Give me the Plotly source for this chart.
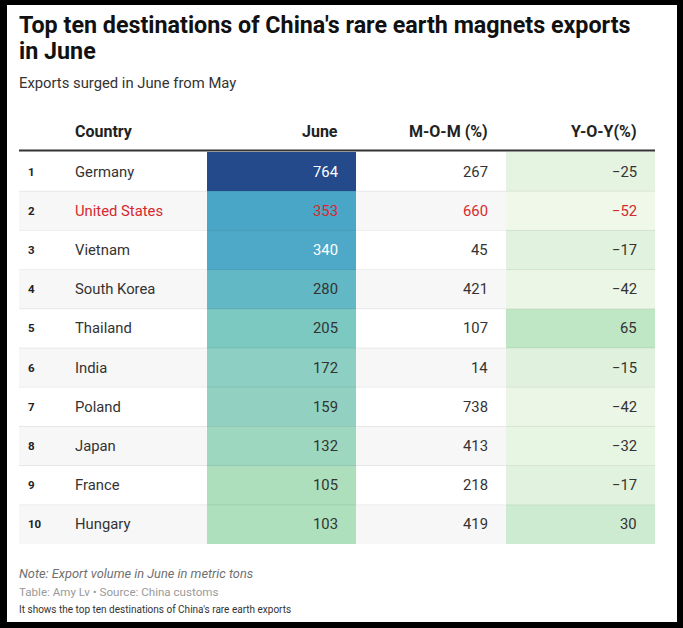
import plotly.graph_objects as go
from plotly.colors import sample_colorscale

# ---------------- data ----------------
ranks = [1, 2, 3, 4, 5, 6, 7, 8, 9, 10]
countries = ["Germany", "United States", "Vietnam", "South Korea", "Thailand",
             "India", "Poland", "Japan", "France", "Hungary"]
june = [764, 353, 340, 280, 205, 172, 159, 132, 105, 103]
mom = [267, 660, 45, 421, 107, 14, 738, 413, 218, 419]
yoy = [-25, -52, -17, -42, 65, -15, -42, -32, -17, 30]
headers = ["Country", "June", "M-O-M (%)", "Y-O-Y(%)"]
highlight = "United States"

title_lines = ["Top ten destinations of China's rare earth magnets exports", "in June"]
subtitle = "Exports surged in June from May"
note = "Note: Export volume in June in metric tons"
source = "Table: Amy Lv \u2022 Source: China customs"
desc = "It shows the top ten destinations of China's rare earth exports"

# ---------------- style ----------------
W, H = 683, 628
ML, MR, MT, MB = 7, 6, 5, 6
PW, PH = W - ML - MR, H - MT - MB
FONT = "Roboto, Arial, sans-serif"
TXT = "#333333"
RED = "#d6292f"

def px_x(p):
    return (p - ML) / PW

def px_y(p):
    return 1 - (p - MT) / PH

col_w = [46, 142, 149, 150, 149]
edges = [0]
for w in col_w:
    edges.append(edges[-1] + w)

june_scale = [[0.0, "#aee0bd"], [0.045, "#9dd7bf"], [0.1, "#8ecfc2"],
              [0.155, "#7cc9c2"], [0.27, "#62b8c5"], [0.37, "#4ba7c8"],
              [0.65, "#2f78b0"], [1.0, "#254a8b"]]
yoy_scale = [[0.0, "#eff8e9"], [1.0, "#bfe6c5"]]

def fmt(v):
    return ("\u2212" + str(-v)) if v < 0 else str(v)

def lum(color):
    s = color.replace("rgb(", "").replace(")", "").split(",")
    r, g, b = [float(c) / 255 for c in s]
    lin = lambda c: c / 12.92 if c <= 0.04045 else ((c + 0.055) / 1.055) ** 2.4
    return 0.2126 * lin(r) + 0.7152 * lin(g) + 0.0722 * lin(b)

rows = list(range(len(countries)))
fig = go.Figure()

# row stripes
fig.add_trace(go.Heatmap(x=[edges[0], edges[-1]], y=rows,
                         z=[[i % 2] for i in rows], zmin=0, zmax=1,
                         colorscale=[[0, "#ffffff"], [1, "#f7f7f7"]],
                         showscale=False, hoverinfo="skip"))
# June column
fig.add_trace(go.Heatmap(x=[edges[2], edges[3]], y=rows,
                         z=[[v] for v in june], zmin=min(june), zmax=max(june),
                         colorscale=june_scale, showscale=False, hoverinfo="skip"))
# Y-O-Y column
fig.add_trace(go.Heatmap(x=[edges[4], edges[5]], y=rows,
                         z=[[v] for v in yoy], zmin=min(yoy), zmax=max(yoy),
                         colorscale=yoy_scale, showscale=False, hoverinfo="skip"))

june_cols = sample_colorscale(june_scale,
                              [(v - min(june)) / (max(june) - min(june)) for v in june])

BODY = 14.8
ann = []
shapes = []
for i in rows:
    hl = countries[i] == highlight
    c = RED if hl else TXT
    ann.append(dict(x=edges[0], y=i, xref="x", yref="y", text="<b>%d</b>" % ranks[i],
                    xanchor="left", yanchor="middle", xshift=7, showarrow=False,
                    font=dict(family=FONT, size=11.5, color="#222222")))
    ann.append(dict(x=edges[1], y=i, xref="x", yref="y", text=countries[i],
                    xanchor="left", yanchor="middle", xshift=8, showarrow=False,
                    font=dict(family=FONT, size=BODY, color=c)))
    jc = RED if hl else ("#ffffff" if lum(june_cols[i]) < 0.38 else TXT)
    ann.append(dict(x=edges[3], y=i, xref="x", yref="y", text=fmt(june[i]),
                    xanchor="right", yanchor="middle", xshift=-16, showarrow=False,
                    font=dict(family=FONT, size=BODY, color=jc)))
    ann.append(dict(x=edges[4], y=i, xref="x", yref="y", text=fmt(mom[i]),
                    xanchor="right", yanchor="middle", xshift=-16, showarrow=False,
                    font=dict(family=FONT, size=BODY, color=c)))
    ann.append(dict(x=edges[5], y=i, xref="x", yref="y", text=fmt(yoy[i]),
                    xanchor="right", yanchor="middle", xshift=-16, showarrow=False,
                    font=dict(family=FONT, size=BODY, color=c)))
    if i < len(rows) - 1:
        shapes.append(dict(type="line", xref="x", yref="y", x0=edges[0], x1=edges[-1],
                           y0=i + 0.5, y1=i + 0.5,
                           line=dict(color="rgba(0,0,0,0.07)", width=1)))

# header
hy = px_y(131)
hx = [(edges[1], "left", 8), (edges[3], "right", -16), (edges[4], "right", -16),
      (edges[5], "right", -16)]
for (xv, anc, sh), t in zip(hx, headers):
    ann.append(dict(x=xv, y=hy, xref="x", yref="paper", text="<b>%s</b>" % t,
                    xanchor=anc, yanchor="middle", xshift=sh, showarrow=False,
                    font=dict(family=FONT, size=16, color="#222222")))
shapes.append(dict(type="line", xref="x", yref="paper", x0=edges[0], x1=edges[-1],
                   y0=px_y(150.5), y1=px_y(150.5), line=dict(color="#333333", width=2)))

# white card
shapes.insert(0, dict(type="rect", xref="paper", yref="paper", x0=0, x1=1, y0=0, y1=1,
                      fillcolor="#ffffff", line=dict(width=0), layer="below"))

# titles / footer
for t, yy in zip(title_lines, [24.5, 51.5]):
    ann.append(dict(x=px_x(17), y=px_y(yy), xref="paper", yref="paper", text="<b>%s</b>" % t,
                    xanchor="left", yanchor="middle", align="left", showarrow=False,
                    font=dict(family=FONT, size=23.3, color="#111111")))
ann.append(dict(x=px_x(17), y=px_y(83), xref="paper", yref="paper", text=subtitle,
                xanchor="left", yanchor="middle", showarrow=False,
                font=dict(family=FONT, size=14.8, color=TXT)))
ann.append(dict(x=px_x(17), y=px_y(573), xref="paper", yref="paper", text="<i>%s</i>" % note,
                xanchor="left", yanchor="middle", showarrow=False,
                font=dict(family=FONT, size=12.8, color="#707070")))
ann.append(dict(x=px_x(17), y=px_y(592), xref="paper", yref="paper", text=source,
                xanchor="left", yanchor="middle", showarrow=False,
                font=dict(family=FONT, size=11.6, color="#9a9a9a")))
ann.append(dict(x=px_x(17), y=px_y(609), xref="paper", yref="paper", text=desc,
                xanchor="left", yanchor="middle", showarrow=False,
                font=dict(family=FONT, size=10, color="#333333")))

fig.update_layout(
    width=W, height=H,
    margin=dict(l=ML, r=MR, t=MT, b=MB, pad=0),
    paper_bgcolor="#000000", plot_bgcolor="rgba(0,0,0,0)",
    xaxis=dict(range=[edges[0], edges[-1]], domain=[px_x(19), px_x(655)],
               visible=False, fixedrange=True),
    yaxis=dict(range=[len(rows) - 0.5, -0.5], domain=[px_y(544), px_y(152)],
               visible=False, fixedrange=True),
    annotations=ann, shapes=shapes, showlegend=False,
    font=dict(family=FONT),
)

fig.write_html("out.html", config={"displayModeBar": False},
               post_script="document.body.style.margin='0';"
                           "document.body.style.background='#000';")
